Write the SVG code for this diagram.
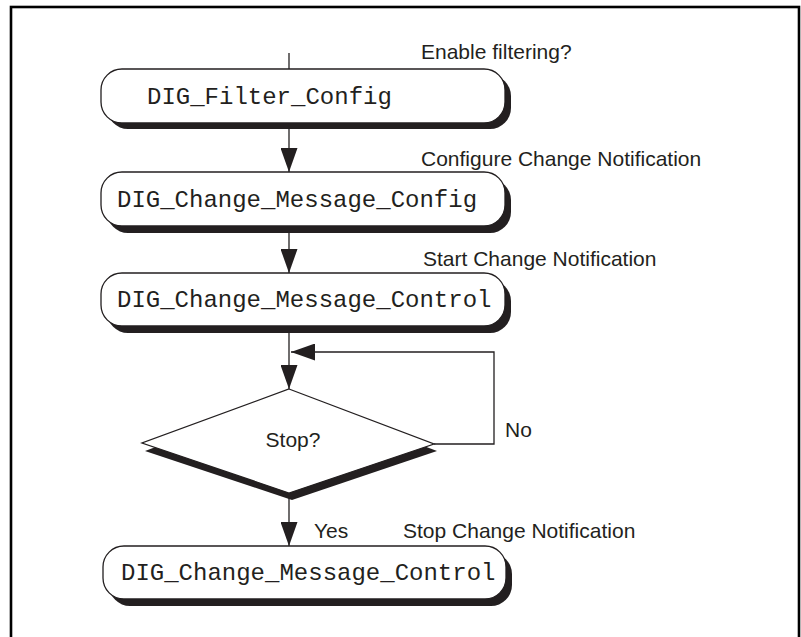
<svg xmlns="http://www.w3.org/2000/svg" width="801" height="637" viewBox="0 0 801 637">
<style>
.frame{fill:none;stroke:#000;stroke-width:2.6}
.box{fill:#fff;stroke:#231f20;stroke-width:1.3}
.shadow{fill:#231f20;stroke:none}
.code{font-family:"Liberation Mono","Courier New",monospace;font-size:24px;fill:#231f20}
.lbl{font-family:"Liberation Sans",Arial,sans-serif;font-size:21px;fill:#231f20}
.conn{fill:none;stroke:#231f20;stroke-width:1.3}
</style>
<defs>
<marker id="ah" markerWidth="24" markerHeight="17" refX="24" refY="8.5" orient="auto" markerUnits="userSpaceOnUse">
<path d="M0,0 L24,8.5 L0,17 z" fill="#231f20"/>
</marker>
</defs>
<rect class="frame" x="11" y="7" width="788" height="700"/>
<g id="connectors">
<path class="conn" d="M289,53 V69"/>
<path class="conn" d="M289,129 V172" marker-end="url(#ah)"/>
<path class="conn" d="M289,232 V273" marker-end="url(#ah)"/>
<path class="conn" d="M289,332 V389" marker-end="url(#ah)"/>
<path class="conn" d="M434,444 H494 V352 H291" marker-end="url(#ah)"/>
<path class="conn" d="M289,498 V546" marker-end="url(#ah)"/>
</g>
<g id="n1">
<rect class="shadow" x="107" y="75" width="404" height="54" rx="21"/>
<rect class="box" x="101" y="69" width="404" height="54" rx="21"/>
<text class="code" x="147" y="104">DIG_Filter_Config</text>
</g>
<g id="n2">
<rect class="shadow" x="107" y="179" width="404" height="54" rx="21"/>
<rect class="box" x="101" y="172" width="404" height="54" rx="21"/>
<text class="code" x="117" y="207">DIG_Change_Message_Config</text>
</g>
<g id="n3">
<rect class="shadow" x="107" y="280" width="404" height="53" rx="21"/>
<rect class="box" x="101" y="273" width="404" height="53" rx="21"/>
<text class="code" x="117" y="307">DIG_Change_Message_Control</text>
</g>
<g id="n4">
<polygon class="shadow" points="292,396 437,451 292,500 145,451"/>
<polygon class="box" points="289,389 434,444 289,493 142,443"/>
<text class="lbl" x="293" y="447" text-anchor="middle">Stop?</text>
</g>
<g id="n5">
<rect class="shadow" x="109" y="553" width="403" height="53" rx="21"/>
<rect class="box" x="103" y="546" width="403" height="53" rx="21"/>
<text class="code" x="121" y="580">DIG_Change_Message_Control</text>
</g>
<g id="labels">
<text class="lbl" x="421" y="59">Enable filtering?</text>
<text class="lbl" x="421" y="166">Configure Change Notification</text>
<text class="lbl" x="423" y="266">Start Change Notification</text>
<text class="lbl" x="505" y="437">No</text>
<text class="lbl" x="314" y="538">Yes</text>
<text class="lbl" x="403" y="538">Stop Change Notification</text>
</g>
</svg>
